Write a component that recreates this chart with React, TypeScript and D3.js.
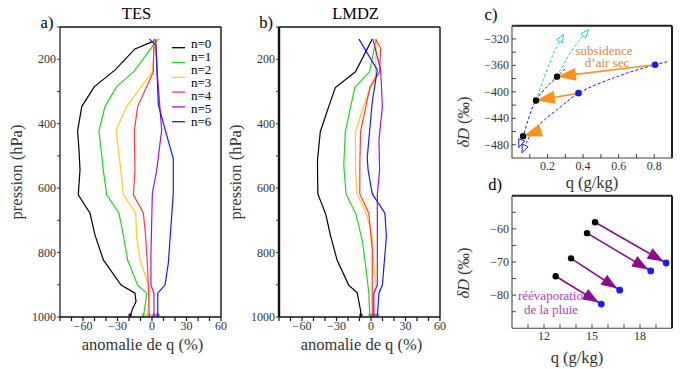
import React from 'react';
import * as d3 from 'd3';

type Pt = [number, number];

// ---- panels a/b : humidity anomaly profiles (value %, pressure hPa)
const LEGEND_LABELS = ['n=0', 'n=1', 'n=2', 'n=3', 'n=4', 'n=5', 'n=6'];
const SERIES_COLORS = ['#000000', '#22d422', '#ffcc1a', '#ff3c3c', '#a414d4', '#1a1aff'];

const TES_0: Pt[] = [[2, 143], [-14.8, 168], [-32, 233], [-50.1, 285], [-61.1, 347], [-64.7, 423], [-63.5, 480], [-62.6, 544], [-64.1, 621], [-53.9, 678], [-49.6, 745], [-42.3, 823], [-26.9, 901], [-14.8, 926], [-13.9, 952], [-17, 975], [-19.1, 1000]];
const TES_1: Pt[] = [[6, 137], [1.2, 156], [-15.4, 237], [-30.7, 285], [-40.9, 347], [-46.1, 423], [-42.3, 544], [-39.4, 621], [-28.7, 678], [-25, 745], [-21.2, 823], [-12.5, 901], [-4.6, 926], [-5.5, 952], [-7.5, 1000]];
const TES_2: Pt[] = [[2.6, 136], [0.3, 238], [-22, 347], [-31.3, 420], [-27.1, 544], [-24.9, 621], [-14.2, 678], [-13.4, 750], [-10.4, 823], [-4.6, 885], [-1.7, 916], [-4.1, 1000]];
const TES_3: Pt[] = [[1.7, 137], [1.2, 239], [-12.5, 347], [-15.4, 423], [-14.8, 544], [-16.2, 621], [-7.5, 678], [-5.5, 750], [-3.7, 854], [-2.3, 1000]];
const TES_4: Pt[] = [[3.2, 137], [4.5, 240], [8.4, 420], [4.1, 544], [0.3, 616], [-0.9, 803], [-0.9, 901], [1.7, 926], [1.7, 1000]];
const TES_5: Pt[] = [[-2.3, 137], [3.5, 158], [5.5, 342], [18.5, 509], [18.5, 616], [14.2, 833], [11.3, 901], [5, 926], [5, 1000]];

const LMDZ_0: Pt[] = [[1.1, 137], [-13.5, 239], [-31, 288], [-36.8, 347], [-44.1, 425], [-46.5, 513], [-46.5, 544], [-46.2, 618], [-39.2, 683], [-35.4, 745], [-29.5, 823], [-19.4, 901], [-12, 925], [-9.1, 979], [-8.8, 1000]];
const LMDZ_1: Pt[] = [[4.6, 137], [-1.3, 239], [-14.1, 288], [-22.3, 425], [-23.7, 528], [-21.7, 618], [-12.9, 683], [-7.7, 761], [-4.2, 854], [-1.9, 926], [-1, 1000]];
const LMDZ_2: Pt[] = [[4.6, 137], [4, 249], [-6.2, 342], [-13.5, 425], [-13.5, 544], [-12, 618], [-4.2, 678], [1.1, 750], [2.5, 844], [4.6, 906], [1.9, 931], [2.5, 1000]];
const LMDZ_3: Pt[] = [[4, 137], [8.4, 166], [7.5, 239], [-1, 288], [-9.1, 425], [-9.7, 528], [-9.7, 618], [-1.9, 678], [1.1, 790], [1.1, 926], [1.1, 1000]];
const LMDZ_4: Pt[] = [[1.6, 137], [8.4, 233], [9.9, 347], [6.9, 451], [7.5, 544], [5.5, 618], [5.5, 901], [2.5, 926], [2.5, 1000]];
const LMDZ_5: Pt[] = [[-10.6, 137], [5.5, 233], [1.1, 332], [-3.3, 507], [-2.5, 544], [1.1, 618], [12.1, 678], [13.4, 750], [9.9, 901], [6.9, 926], [5.5, 1000]];

const TES_SERIES = [TES_0, TES_1, TES_2, TES_3, TES_4, TES_5];
const LMDZ_SERIES = [LMDZ_0, LMDZ_1, LMDZ_2, LMDZ_3, LMDZ_4, LMDZ_5];

const ANOM_LABEL_TICKS = [-60, -30, 0, 30, 60];
const ANOM_MINOR_TICKS = d3.range(-80, 61, 10);
const P_LABEL_TICKS = [200, 400, 600, 800, 1000];
const P_MINOR_TICKS = d3.range(100, 1001, 100);

// ---- panel c : q (g/kg), dD (permil)
const C_BLUE_DOTS: Pt[] = [[0.805, -359], [0.374, -402]];
const C_BLACK_DOTS: Pt[] = [[0.253, -377], [0.135, -413], [0.062, -467]];
const C_RAYLEIGH_OUTER: Pt[] = [[0.056, -492], [0.081, -477], [0.118, -459], [0.184, -442], [0.277, -422], [0.374, -402], [0.6, -376], [0.805, -359], [0.88, -354]];
const C_RAYLEIGH_INNER: Pt[] = [[0.039, -484], [0.062, -467], [0.135, -413], [0.253, -377], [0.305, -364]];
const C_CYAN_1: Pt[] = [[0.135, -413], [0.156, -397], [0.204, -362], [0.242, -337], [0.289, -313]];
const C_CYAN_2: Pt[] = [[0.253, -377], [0.289, -359], [0.326, -342], [0.373, -324], [0.43, -306]];
const C_SUBSIDENCE: { from: Pt; to: Pt }[] = [
  { from: [0.805, -359], to: [0.253, -377] },
  { from: [0.374, -402], to: [0.135, -413] },
  { from: [0.165, -458], to: [0.062, -467] },
];
const C_X_TICKS = d3.range(0.1, 0.85, 0.1);
const C_X_LABELS = [0.2, 0.4, 0.6, 0.8];
const C_Y_TICKS = d3.range(-480, -299, 20);
const C_Y_LABELS = [-320, -360, -400, -440, -480];

// ---- panel d
const D_BLACK_DOTS: Pt[] = [[15.19, -58.0], [14.69, -61.3], [13.69, -68.9], [12.73, -74.3]];
const D_BLUE_DOTS: Pt[] = [[19.63, -70.3], [18.67, -72.7], [16.73, -78.5], [15.58, -82.7]];
const D_X_TICKS = d3.range(11, 20, 1);
const D_X_LABELS = [12, 15, 18];
const D_Y_TICKS = d3.range(-85, -50, 5);
const D_Y_LABELS = [-60, -70, -80];

const minus = (v: number) => String(v).replace('-', '\u2212');

function headPoints(tip: Pt, from: Pt, len: number, hw: number) {
  const dx = tip[0] - from[0];
  const dy = tip[1] - from[1];
  const L = Math.hypot(dx, dy) || 1;
  const ux = dx / L;
  const uy = dy / L;
  const bx = tip[0] - ux * len;
  const by = tip[1] - uy * len;
  return `${tip[0]},${tip[1]} ${bx - uy * hw},${by + ux * hw} ${bx + uy * hw},${by - ux * hw}`;
}

const FONT = '"Liberation Serif", "Times New Roman", Times, "DejaVu Serif", serif';
const TICK_FONT = 12;
const LABEL_FONT = 16.5;

function ProfilePanel({ left, title, tag, series, legend, axisWidth, ylabelX }: {
  left: number; title: string; tag: string; series: Pt[][]; legend: boolean; axisWidth: number; ylabelX: number;
}) {
  const top = 27;
  const bottom = 317;
  const right = left + 161;
  const x = d3.scaleLinear().domain([-80, 60]).range([left, right]);
  const y = d3.scaleLinear().domain([100, 1000]).range([top, bottom]);
  const line = d3.line<Pt>().x(d => x(d[0])).y(d => y(d[1]));
  const cx = (left + right) / 2;

  return (
    <g>
      <text x={cx - 4} y={19} fontSize={LABEL_FONT} textAnchor="middle">{title}</text>
      <text x={left - 13} y={28} fontSize={LABEL_FONT} textAnchor="middle">{tag}</text>

      {series.map((s, i) => (
        <path key={i} d={line(s) || ''} fill="none" stroke={SERIES_COLORS[i]} strokeWidth={1.2} />
      ))}
      {/* small markers at the surface end of each profile */}
      {series.map((s, i) => {
        const e = s[s.length - 1];
        return (
          <path key={`m${i}`} d={`M${x(e[0]) - 2},${y(e[1]) - 2}h4M${x(e[0])},${y(e[1]) - 4}v4`} stroke={SERIES_COLORS[i]} strokeWidth={1} />
        );
      })}

      {/* frame */}
      <line x1={left} y1={top} x2={right} y2={top} stroke="#111" strokeWidth={1.6} />
      <line x1={right} y1={top} x2={right} y2={bottom} stroke="#111" strokeWidth={1.4} />
      <line x1={left} y1={top} x2={left} y2={bottom} stroke="#111" strokeWidth={axisWidth} />
      <line x1={left} y1={bottom} x2={right} y2={bottom} stroke="#111" strokeWidth={1.6} />

      {ANOM_MINOR_TICKS.map(v => (
        <line key={v} x1={x(v)} x2={x(v)} y1={bottom} y2={bottom + 4} stroke="#111" strokeWidth={1.2} />
      ))}
      {ANOM_LABEL_TICKS.map(v => (
        <text key={v} x={x(v)} y={bottom + 13} fontSize={TICK_FONT} textAnchor="middle" fill="#333">{minus(v)}</text>
      ))}
      {P_MINOR_TICKS.map(p => (
        <line key={p} x1={left - 3} x2={left} y1={y(p)} y2={y(p)} stroke="#333" strokeWidth={1} />
      ))}
      {P_LABEL_TICKS.map(p => (
        <text key={p} x={left - 4} y={y(p) + 4} fontSize={TICK_FONT} textAnchor="end" fill="#333">{p}</text>
      ))}

      <text x={cx + 2} y={350} fontSize={LABEL_FONT} textAnchor="middle" fill="#333">anomalie de q (%)</text>
      <text transform={`translate(${ylabelX},172) rotate(-90)`} fontSize={LABEL_FONT} textAnchor="middle" fill="#333">pression (hPa)</text>

      {legend && (
        <g>
          {SERIES_COLORS.map((c, i) => (
            <line key={c} x1={172} x2={185} y1={47.7 + i * 14.8} y2={47.7 + i * 14.8} stroke={c} strokeWidth={1.3} />
          ))}
          {LEGEND_LABELS.map((l, i) => (
            <text key={l} x={191} y={43.3 + i * 13 + 4.5} fontSize={13}>{l}</text>
          ))}
        </g>
      )}
    </g>
  );
}

function FrameBox({ x0, x1, y0, y1 }: { x0: number; x1: number; y0: number; y1: number }) {
  return (
    <g>
      <line x1={x0} y1={y0} x2={x1} y2={y0} stroke="#222" strokeWidth={2} />
      <line x1={x1} y1={y0} x2={x1} y2={y1} stroke="#222" strokeWidth={2} />
      <line x1={x0} y1={y0} x2={x0} y2={y1} stroke="#444" strokeWidth={1.1} />
      <line x1={x0} y1={y1} x2={x1} y2={y1} stroke="#444" strokeWidth={1.1} />
    </g>
  );
}

function PanelC() {
  const x = d3.scaleLinear().domain([0, 0.9]).range([512, 672]);
  const y = d3.scaleLinear().domain([-500, -300]).range([158, 25.7]);
  const px = (d: Pt): Pt => [x(d[0]), y(d[1])];
  const curve = d3.line<Pt>().x(d => x(d[0])).y(d => y(d[1])).curve(d3.curveCatmullRom);
  const orange = '#f7931e';

  const openHead = (s: Pt[], atStart: boolean, color: string) => {
    const tip = px(atStart ? s[0] : s[s.length - 1]);
    const from = px(atStart ? s[1] : s[s.length - 2]);
    return <polygon points={headPoints(tip, from, 8, 3.2)} fill="white" stroke={color} strokeWidth={1} />;
  };

  return (
    <g>
      <text x={491} y={20} fontSize={LABEL_FONT} textAnchor="middle">c)</text>
      <FrameBox x0={512} x1={672} y0={25.7} y1={158} />
      {C_X_TICKS.map(v => (
        <line key={v} x1={x(v)} x2={x(v)} y1={158} y2={154} stroke="#444" />
      ))}
      {C_X_LABELS.map(v => (
        <text key={v} x={x(v)} y={170} fontSize={TICK_FONT} textAnchor="middle" fill="#333">{v}</text>
      ))}
      {C_Y_TICKS.map(v => (
        <line key={v} x1={512} x2={516} y1={y(v)} y2={y(v)} stroke="#444" />
      ))}
      {C_Y_LABELS.map(v => (
        <text key={v} x={509} y={y(v) + 4} fontSize={TICK_FONT} textAnchor="end" fill="#333">{minus(v)}</text>
      ))}

      <path d={curve(C_RAYLEIGH_OUTER) || ''} fill="none" stroke="#1a1aff" strokeWidth={1} strokeDasharray="3,2" />
      <path d={curve(C_RAYLEIGH_INNER) || ''} fill="none" stroke="#1a1aff" strokeWidth={1} strokeDasharray="3,2" />
      <path d={curve(C_CYAN_1) || ''} fill="none" stroke="#22cccc" strokeWidth={1} strokeDasharray="3,2" />
      <path d={curve(C_CYAN_2) || ''} fill="none" stroke="#22cccc" strokeWidth={1} strokeDasharray="3,2" />
      {openHead(C_RAYLEIGH_OUTER, true, '#1a1aff')}
      {openHead(C_RAYLEIGH_INNER, true, '#1a1aff')}
      {openHead(C_CYAN_1, false, '#22cccc')}
      {openHead(C_CYAN_2, false, '#22cccc')}

      {C_SUBSIDENCE.map((a, i) => {
        const f = px(a.from);
        const t = px(a.to);
        return (
          <g key={i}>
            <line x1={f[0]} y1={f[1]} x2={t[0]} y2={t[1]} stroke={orange} strokeWidth={1.6} />
            <polygon points={headPoints(t, f, 19, 6.5)} fill={orange} />
          </g>
        );
      })}
      {C_BLUE_DOTS.map((d, i) => (
        <circle key={i} cx={x(d[0])} cy={y(d[1])} r={3.3} fill="#1a1aff" />
      ))}
      {C_BLACK_DOTS.map((d, i) => (
        <circle key={i} cx={x(d[0])} cy={y(d[1])} r={3.2} fill="#000" />
      ))}

      <text x={604} y={55} fontSize={13} textAnchor="middle" fill="#e5862c">subsidence</text>
      <text x={607} y={67} fontSize={13} textAnchor="middle" fill="#e5862c">d’air sec</text>

      <text x={592} y={188} fontSize={LABEL_FONT} textAnchor="middle" fill="#333">q (g/kg)</text>
      <text transform="translate(469,122) rotate(-90)" fontSize={LABEL_FONT} textAnchor="middle" fill="#333">
        <tspan fontStyle="italic">δD</tspan> (‰)
      </text>
    </g>
  );
}

function PanelD() {
  const x = d3.scaleLinear().domain([10, 20]).range([512, 672]);
  const y = d3.scaleLinear().domain([-90, -50]).range([328.3, 195.7]);
  const purple = '#8e0a8e';

  return (
    <g>
      <text x={495} y={190} fontSize={LABEL_FONT} textAnchor="middle">d)</text>
      <FrameBox x0={512} x1={672} y0={195.7} y1={328.3} />
      {D_X_TICKS.map(v => (
        <line key={v} x1={x(v)} x2={x(v)} y1={328.3} y2={324.3} stroke="#444" />
      ))}
      {D_X_LABELS.map(v => (
        <text key={v} x={x(v)} y={340} fontSize={TICK_FONT} textAnchor="middle" fill="#333">{v}</text>
      ))}
      {D_Y_TICKS.map(v => (
        <line key={v} x1={512} x2={516} y1={y(v)} y2={y(v)} stroke="#444" />
      ))}
      {D_Y_LABELS.map(v => (
        <text key={v} x={509} y={y(v) + 4} fontSize={TICK_FONT} textAnchor="end" fill="#333">{minus(v)}</text>
      ))}

      <text x={518} y={300} fontSize={13} fill="#b53bb5">réévaporation</text>
      <text x={551} y={314} fontSize={13} textAnchor="middle" fill="#b53bb5">de la pluie</text>

      {D_BLACK_DOTS.map((b, i) => {
        const f: Pt = [x(b[0]), y(b[1])];
        const e: Pt = [x(D_BLUE_DOTS[i][0]), y(D_BLUE_DOTS[i][1])];
        const L = Math.hypot(e[0] - f[0], e[1] - f[1]);
        const t: Pt = [e[0] - (e[0] - f[0]) / L * 3, e[1] - (e[1] - f[1]) / L * 3];
        return (
          <g key={i}>
            <line x1={f[0]} y1={f[1]} x2={t[0]} y2={t[1]} stroke={purple} strokeWidth={1.6} />
            <polygon points={headPoints(t, f, 16, 6)} fill={purple} />
          </g>
        );
      })}
      {D_BLACK_DOTS.map((d, i) => (
        <circle key={i} cx={x(d[0])} cy={y(d[1])} r={3.2} fill="#000" />
      ))}
      {D_BLUE_DOTS.map((d, i) => (
        <circle key={i} cx={x(d[0])} cy={y(d[1])} r={3.4} fill="#1a1aff" />
      ))}

      <text x={577} y={363} fontSize={LABEL_FONT} textAnchor="middle" fill="#333">q (g/kg)</text>
      <text transform="translate(469,273) rotate(-90)" fontSize={LABEL_FONT} textAnchor="middle" fill="#333">
        <tspan fontStyle="italic">δD</tspan> (‰)
      </text>
    </g>
  );
}

export default function App() {
  return (
    <svg
      width={681}
      height={369}
      style={{ position: 'absolute', left: 0, top: 0, background: '#fff', fontFamily: FONT }}
    >
      <ProfilePanel left={60} title="TES" tag="a)" series={TES_SERIES} legend axisWidth={1.2} ylabelX={22} />
      <ProfilePanel left={279} title="LMDZ" tag="b)" series={LMDZ_SERIES} legend={false} axisWidth={2.4} ylabelX={241} />
      <PanelC />
      <PanelD />
    </svg>
  );
}
